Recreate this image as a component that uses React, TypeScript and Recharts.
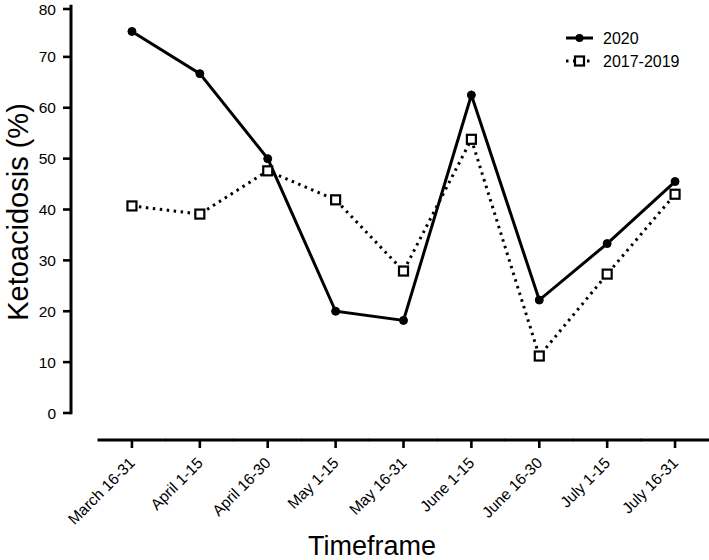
import React from "react";
import { LineChart, Line, XAxis, YAxis } from "recharts";

const categories = [
  "March 16-31",
  "April 1-15",
  "April 16-30",
  "May 1-15",
  "May 16-31",
  "June 1-15",
  "June 16-30",
  "July 1-15",
  "July 16-31",
];
const y2020 = [75, 66.7, 50, 20, 18.2, 62.5, 22.2, 33.3, 45.5];
const y2017_2019 = [40.7, 39.1, 47.6, 41.9, 27.9, 53.8, 11.2, 27.3, 43];
const yTicks = [0, 10, 20, 30, 40, 50, 60, 70, 80];

const W = 709;
const H = 560;
const PLOT_LEFT = 98;
const PLOT_TOP = 6;
const PLOT_BOTTOM = 413;
const PLOT_H = PLOT_BOTTOM - PLOT_TOP;
const BAND = (W - PLOT_LEFT) / categories.length;
const Y_GAP = 27; // y axis sits left of the plot
const X_GAP = 27; // x axis sits below the plot
const FONT = "'Liberation Sans', Arial, Helvetica, sans-serif";

const data = categories.map((c, i) => ({ name: c, a: y2020[i], b: y2017_2019[i] }));

const YTick = (props: any) => {
  const { x, y, payload } = props;
  const ax = x - Y_GAP;
  return (
    <g>
      <line x1={ax - 8} x2={ax} y1={y} y2={y} stroke="#000" strokeWidth={2.6} />
      {payload.value === 0 && (
        <line x1={ax} x2={ax} y1={y + 1.3} y2={y - PLOT_H - 1.3} stroke="#000" strokeWidth={3} />
      )}
      <text x={ax - 15} y={y} dy={5.5} textAnchor="end" fontSize={15.5} fontFamily={FONT} fill="#000">
        {payload.value}
      </text>
    </g>
  );
};

const XTick = (props: any) => {
  const { x, y, payload } = props;
  const ay = y + X_GAP;
  const tx = x + 4;
  const ty = ay + 24;
  return (
    <g>
      <line x1={x - BAND / 2 - 0.5} x2={x + BAND / 2 + 0.5} y1={ay} y2={ay} stroke="#000" strokeWidth={3} />
      <line x1={x} x2={x} y1={ay} y2={ay + 8} stroke="#000" strokeWidth={2.6} />
      <text
        x={tx}
        y={ty}
        textAnchor="end"
        fontSize={15.5}
        fontFamily={FONT}
        fill="#000"
        transform={`rotate(-45 ${tx} ${ty})`}
      >
        {payload.value}
      </text>
    </g>
  );
};

const SquareDot = (props: any) => {
  const { cx, cy } = props;
  if (cx == null || cy == null) return null;
  return <rect x={cx - 4.5} y={cy - 4.5} width={9} height={9} fill="#fff" stroke="#000" strokeWidth={2.2} />;
};

const App = () => {
  return (
    <div style={{ position: "relative", width: W, height: H }}>
      <style>{"body{margin:0}"}</style>
      <LineChart
        width={W}
        height={H}
        data={data}
        margin={{ top: PLOT_TOP, right: 0, left: PLOT_LEFT - 60, bottom: H - PLOT_BOTTOM - 100 }}
      >
        <XAxis
          dataKey="name"
          height={100}
          interval={0}
          padding={{ left: BAND / 2, right: BAND / 2 }}
          axisLine={false}
          tickLine={false}
          tickSize={0}
          tickMargin={0}
          tick={<XTick />}
        />
        <YAxis
          width={60}
          domain={[0, 80]}
          ticks={yTicks}
          axisLine={false}
          tickLine={false}
          tickSize={0}
          tickMargin={0}
          tick={<YTick />}
        />
        <Line
          dataKey="b"
          stroke="#000"
          strokeWidth={3}
          strokeDasharray="2.5 4.5"
          dot={<SquareDot />}
          isAnimationActive={false}
        />
        <Line
          dataKey="a"
          stroke="#000"
          strokeWidth={3}
          dot={{ r: 4, fill: "#000", stroke: "#000", strokeWidth: 1 }}
          isAnimationActive={false}
        />
      </LineChart>
      <svg width={W} height={H} style={{ position: "absolute", left: 0, top: 0, pointerEvents: "none" }}>
        <text
          x={0}
          y={0}
          transform="translate(28 212) rotate(-90)"
          textAnchor="middle"
          fontSize={29}
          fontFamily={FONT}
          fill="#000"
        >
          Ketoacidosis (%)
        </text>
        <text x={372} y={555} textAnchor="middle" fontSize={27} fontFamily={FONT} fill="#000">
          Timeframe
        </text>
        <g>
          <line x1={566} x2={593} y1={38} y2={38} stroke="#000" strokeWidth={3} />
          <circle cx={579.5} cy={38} r={4} fill="#000" />
          <text x={603} y={38} dy={6} fontSize={16} fontFamily={FONT} fill="#000">
            2020
          </text>
          <line x1={566} x2={593} y1={61} y2={61} stroke="#000" strokeWidth={3} strokeDasharray="2.5 4.5" />
          <rect x={575} y={56.5} width={9} height={9} fill="#fff" stroke="#000" strokeWidth={2.2} />
          <text x={603} y={61} dy={6} fontSize={16} fontFamily={FONT} fill="#000">
            2017-2019
          </text>
        </g>
      </svg>
    </div>
  );
};

export default App;
